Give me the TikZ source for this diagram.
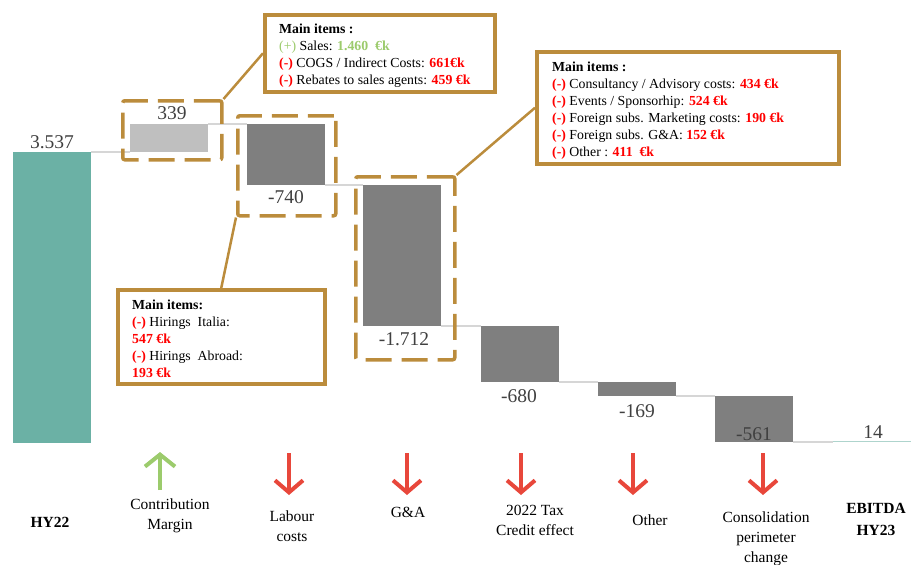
\documentclass[tikz,border=0pt]{standalone}
\usepackage{fontspec}
\setmainfont{Liberation Serif}
\usepackage{tikz}
\usetikzlibrary{arrows.meta, positioning}
\definecolor{barteal}{HTML}{6BB1A5}
\definecolor{barlight}{HTML}{BFBFBF}
\definecolor{bardark}{HTML}{7F7F7F}
\definecolor{linkgray}{HTML}{D6D6D6}
\definecolor{valgray}{HTML}{404040}
\definecolor{callgold}{HTML}{BB8C3C}
\definecolor{posgreen}{HTML}{9CCB6C}
\definecolor{negred}{HTML}{FF0000}
\definecolor{arrowred}{HTML}{E8473B}

\begin{document}
\begin{tikzpicture}[
    x=1pt, y=-1pt,
    every node/.style={font=\fontsize{15.5}{20}\selectfont},
    bar/.style={rectangle, inner sep=0pt, outer sep=0pt, anchor=north west, minimum width=78pt},
    barT/.style={bar, fill=barteal},
    barL/.style={bar, fill=barlight},
    barD/.style={bar, fill=bardark},
    link/.style={draw=linkgray, line width=2pt},
    vallabel/.style={font=\fontsize{19.5}{22}\selectfont, text=valgray, inner sep=0pt},
    catlabel/.style={align=center, inner sep=0pt},
    hilite/.style={rectangle, draw=callgold, line width=3.5pt, dash pattern=on 26pt off 10pt, rounded corners=2pt, inner sep=0pt, anchor=north west},
    callout/.style={rectangle, draw=callgold, line width=3.5pt, fill=white, inner sep=0pt, anchor=north west},
    items/.style={font=\fontsize{13.8}{17}\selectfont, align=left, anchor=north west, inner sep=0pt},
    pointer/.style={draw=callgold, line width=2.5pt},
    uparrow/.style={draw=posgreen, line width=4pt, -{Straight Barb[length=12pt, width=30pt, line width=4pt]}},
    downarrow/.style={draw=arrowred, line width=4pt, -{Straight Barb[length=12pt, width=28pt, line width=4pt]}},
]
\useasboundingbox (0,0) rectangle (911,565);
% waterfall bars
\node[barT, minimum height=291pt] (hy22) at (13,152) {};
\node[barL, minimum height=28pt] (cm) at (130,124) {};
\node[barD, minimum height=61pt] (lab) at (247,124) {};
\node[barD, minimum height=141pt] (ga) at (363,185) {};
\node[barD, minimum height=56pt] (tax) at (481,326) {};
\node[barD, minimum height=14pt] (oth) at (598,382) {};
\node[barD, minimum height=46pt] (cons) at (715,396) {};
\node[bar, fill=barteal!55, minimum height=1.5pt] (ebitda) at (833,440.5) {};
\draw[link] (hy22.north east) -- (cm.south west);
\draw[link] (cm.north east) -- (lab.north west);
\draw[link] (lab.south east) -- (ga.north west);
\draw[link] (ga.south east) -- (tax.north west);
\draw[link] (tax.south east) -- (oth.north west);
\draw[link] (oth.south east) -- (cons.north west);
\draw[link] (cons.south east) -- (ebitda.south west);
\node[vallabel] (hy22-val) at (52,142) {3.537};
\node[vallabel] (cm-val) at (172,113) {339};
\node[vallabel] (lab-val) at (286,197) {-740};
\node[vallabel] (ga-val) at (404,339) {-1.712};
\node[vallabel] (tax-val) at (519,396) {-680};
\node[vallabel] (oth-val) at (637,411) {-169};
\node[vallabel] (cons-val) at (754,434) {-561};
\node[vallabel] (ebitda-val) at (873,432) {14};
% highlights and callouts
\node[hilite, minimum width=99pt, minimum height=59pt] (cm-hl) at (121,99) {};
\node[hilite, minimum width=98pt, minimum height=100pt] (lab-hl) at (236,114) {};
\node[hilite, minimum width=99pt, minimum height=183pt] (ga-hl) at (354,175) {};
\node[callout, minimum width=230pt, minimum height=77pt] (cm-call) at (263,13) {};
\node[items] (cm-items) at (279,24) {\textbf{Main items :}\\
  \textcolor{posgreen}{(+)} Sales: \textcolor{posgreen}{\textbf{1.460~~€k}}\\
  \textcolor{negred}{\textbf{(-)}} COGS / Indirect Costs: \textcolor{negred}{\textbf{661€k}}\\
  \textcolor{negred}{\textbf{(-)}} Rebates to sales agents: \textcolor{negred}{\textbf{459 €k}}};
\node[callout, minimum width=302pt, minimum height=112pt] (ga-call) at (535,50) {};
\node[items] (ga-items) at (552,62) {\textbf{Main items :}\\
  \textcolor{negred}{\textbf{(-)}} Consultancy / Advisory costs: \textcolor{negred}{\textbf{434 €k}}\\
  \textcolor{negred}{\textbf{(-)}} Events / Sponsorhip: \textcolor{negred}{\textbf{524 €k}}\\
  \textcolor{negred}{\textbf{(-)}} Foreign subs. Marketing costs: \textcolor{negred}{\textbf{190 €k}}\\
  \textcolor{negred}{\textbf{(-)}} Foreign subs. G\&A: \textcolor{negred}{\textbf{152 €k}}\\
  \textcolor{negred}{\textbf{(-)}} Other : \textcolor{negred}{\textbf{411~~€k}}};
\node[callout, minimum width=207pt, minimum height=94pt] (lab-call) at (116,288) {};
\node[items] (lab-items) at (132,300) {\textbf{Main items:}\\
  \textcolor{negred}{\textbf{(-)}} Hirings~ Italia:\\
  \textcolor{negred}{\textbf{547 €k}}\\
  \textcolor{negred}{\textbf{(-)}} Hirings~ Abroad:\\
  \textcolor{negred}{\textbf{193 €k}}};
\draw[pointer] (cm-hl.north east) -- (cm-call.west);
\draw[pointer] (lab-hl.south west) -- (lab-call.north);
\draw[pointer] (ga-hl.north east) -- (ga-call.west);
% direction arrows
\coordinate (cm-tail) at (160,490);
\coordinate (cm-tip) at (160,452);
\draw[uparrow] (cm-tail) -- (cm-tip);
\foreach \x/\n in {289/lab, 407/ga, 521/tax, 633/oth, 763/cons} {
    \coordinate (\n-tail) at (\x,453);
    \coordinate (\n-tip) at (\x,495);
    \draw[downarrow] (\n-tail) -- (\n-tip);
}
% category labels
\node[catlabel, font=\fontsize{15.5}{20}\selectfont\bfseries] (hy22-cat) at (50,522) {HY22};
\node[catlabel] (cm-cat) at (170,516) {Contribution\\Margin};
\node[catlabel] (lab-cat) at (292,526) {Labour\\costs};
\node[catlabel] (ga-cat) at (408,512) {G\&A};
\node[catlabel] (tax-cat) at (535,520) {2022 Tax\\Credit effect};
\node[catlabel] (oth-cat) at (650,520) {Other};
\node[catlabel] (cons-cat) at (766,539) {Consolidation\\perimeter\\change};
\node[catlabel, font=\fontsize{15.5}{22}\selectfont\bfseries] (end-cat) at (876,519) {EBITDA\\HY23};
\end{tikzpicture}
\end{document}
